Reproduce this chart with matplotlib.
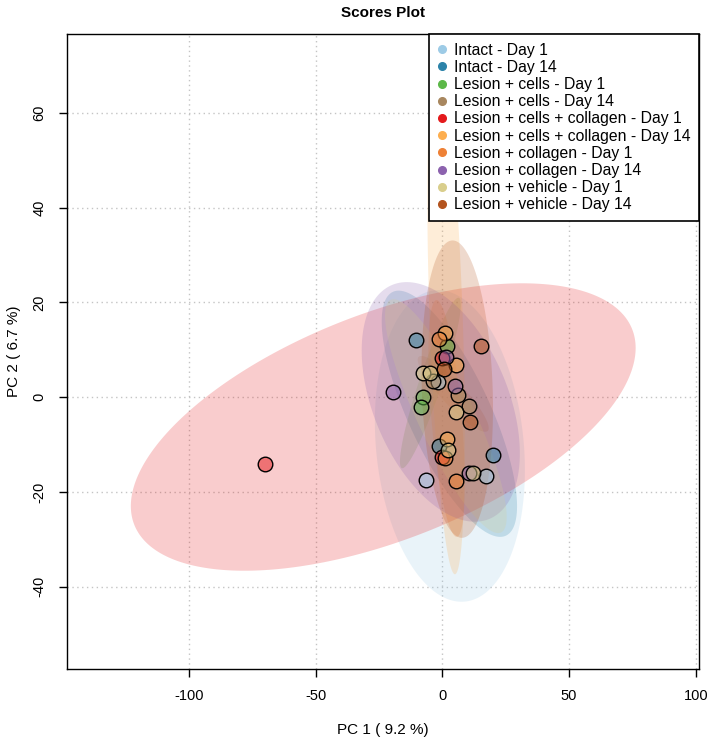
import numpy as np
import matplotlib
matplotlib.use('Agg')
import matplotlib.pyplot as plt
from matplotlib.lines import Line2D

plt.rcParams['font.family'] = ['Liberation Sans', 'DejaVu Sans']
plt.rcParams['axes.unicode_minus'] = False

# groups, in legend order
groups = ['Intact - Day 1', 'Intact - Day 14',
          'Lesion + cells - Day 1', 'Lesion + cells - Day 14',
          'Lesion + cells + collagen - Day 1', 'Lesion + cells + collagen - Day 14',
          'Lesion + collagen - Day 1', 'Lesion + collagen - Day 14',
          'Lesion + vehicle - Day 1', 'Lesion + vehicle - Day 14']
colors = ['#9DCBE6', '#2C83A9', '#5CB848', '#A8875F', '#E41A1C',
          '#FDAE4F', '#EE8136', '#8C62AE', '#D9CE8C', '#B3531E']

# scores (PC1, PC2), per group
pc1 = [[-1.7, -6.4, 17.2],
       [-10.4, -1.3, 20.0],
       [1.9, -7.6, -8.4],
       [-3.7, 6.2, 10.5],
       [-70.0, -0.1, -0.1],
       [1.1, 5.4, 1.9, -0.9],
       [-1.3, 1.1, 5.4],
       [1.5, 5.0, -19.5, 10.5],
       [-7.6, -4.9, 5.4, 2.2, 12.1],
       [15.3, 0.7, 10.9]]
pc2 = [[3.2, -17.4, -16.6],
       [12.1, -10.4, -12.3],
       [10.8, 0.1, -2.0],
       [3.4, 0.5, -1.8],
       [-14.1, 8.3, -12.6],
       [13.6, 6.8, -8.9, 40.2],
       [12.3, -12.8, -17.6],
       [8.5, 2.4, 1.1, -16.0],
       [5.1, 5.1, -3.1, -11.1, -16.0],
       [10.8, 6.0, -5.2]]

# 95% ellipses: centre, half-extent along PC1 / PC2, correlation
ell_cx = [3.0, 2.8, -4.7, 4.3, -23.3, 1.5, 1.7, -0.6, 1.4, 5.9]
ell_cy = [-10.3, -3.5, 3.0, 0.7, -6.3, 17.0, -4.5, -1.0, -4.0, 1.7]
ell_sx = [29.6, 26.7, 12.0, 14.0, 99.6, 7.4, 7.2, 31.2, 24.0, 14.1]
ell_sy = [32.9, 26.0, 18.0, 8.0, 30.35, 54.4, 25.0, 25.3, 24.7, 31.4]
ell_rho = [-0.155, -0.75, 0.92, -0.9, 0.55, -0.47, -0.55, -0.43, -0.86, -0.13]

xticks = [-100, -50, 0, 50, 100]
yticks = [-40, -20, 0, 20, 40, 60]

fig = plt.figure(figsize=(7.09, 7.42), dpi=100)
ax = fig.add_axes([0.0941, 0.0984, 0.8918, 0.8558])

t = np.linspace(0, 2 * np.pi, 300)
for i in range(len(groups)):
    r = ell_rho[i]
    ex = ell_cx[i] + ell_sx[i] * np.cos(t)
    ey = ell_cy[i] + ell_sy[i] * (r * np.cos(t) + np.sqrt(1 - r * r) * np.sin(t))
    ax.fill(ex, ey, color=colors[i], alpha=0.22, lw=0, zorder=1)

for i in range(len(groups)):
    ax.scatter(pc1[i], pc2[i], s=110, facecolor=colors[i],
               edgecolor='black', linewidth=1.0, zorder=3)
# semi-transparent fill but opaque edge
for coll in ax.collections:
    fc = coll.get_facecolor()
    fc[:, 3] = 0.5
    coll.set_facecolor(fc)

ax.set_xlim(-148.2, 101.3)
ax.set_ylim(-57.4, 76.7)
ax.set_xticks(xticks)
ax.set_yticks(yticks)
ax.set_xticklabels([str(v) for v in xticks])
ax.set_yticklabels([str(v) for v in yticks])
ax.tick_params(length=6, width=1, labelsize=10.5, pad=8.5)
ax.tick_params(axis='y', labelrotation=90)
for lab in ax.get_yticklabels():
    lab.set_va('center')
for sp in ax.spines.values():
    sp.set_linewidth(1.0)
ax.grid(color='#C4C4C4', linestyle=(0, (1, 2.5)), linewidth=1.0)
ax.set_axisbelow(True)

ax.set_xlabel('PC 1 ( 9.2 %)', fontsize=11)
ax.set_ylabel('PC 2 ( 6.7 %)', fontsize=11)
ax.xaxis.set_label_coords(0.5, -0.096)
ax.yaxis.set_label_coords(-0.083, 0.5)
ax.xaxis.label.set_va('center')
ax.yaxis.label.set_va('center')
ax.set_title('Scores Plot', fontsize=11, fontweight='bold', pad=12)

handles = [Line2D([], [], marker='o', ls='', color=c, markersize=5.5) for c in colors]
leg = ax.legend(handles, groups, loc='upper right', borderaxespad=0, fancybox=False,
                edgecolor='black', framealpha=1, fontsize=11.3, labelspacing=0.14,
                handlelength=0.6, handletextpad=0.45, borderpad=0.55)
leg.get_frame().set_linewidth(1.2)
leg.set_zorder(5)

fig.savefig('out.png', dpi=100)
